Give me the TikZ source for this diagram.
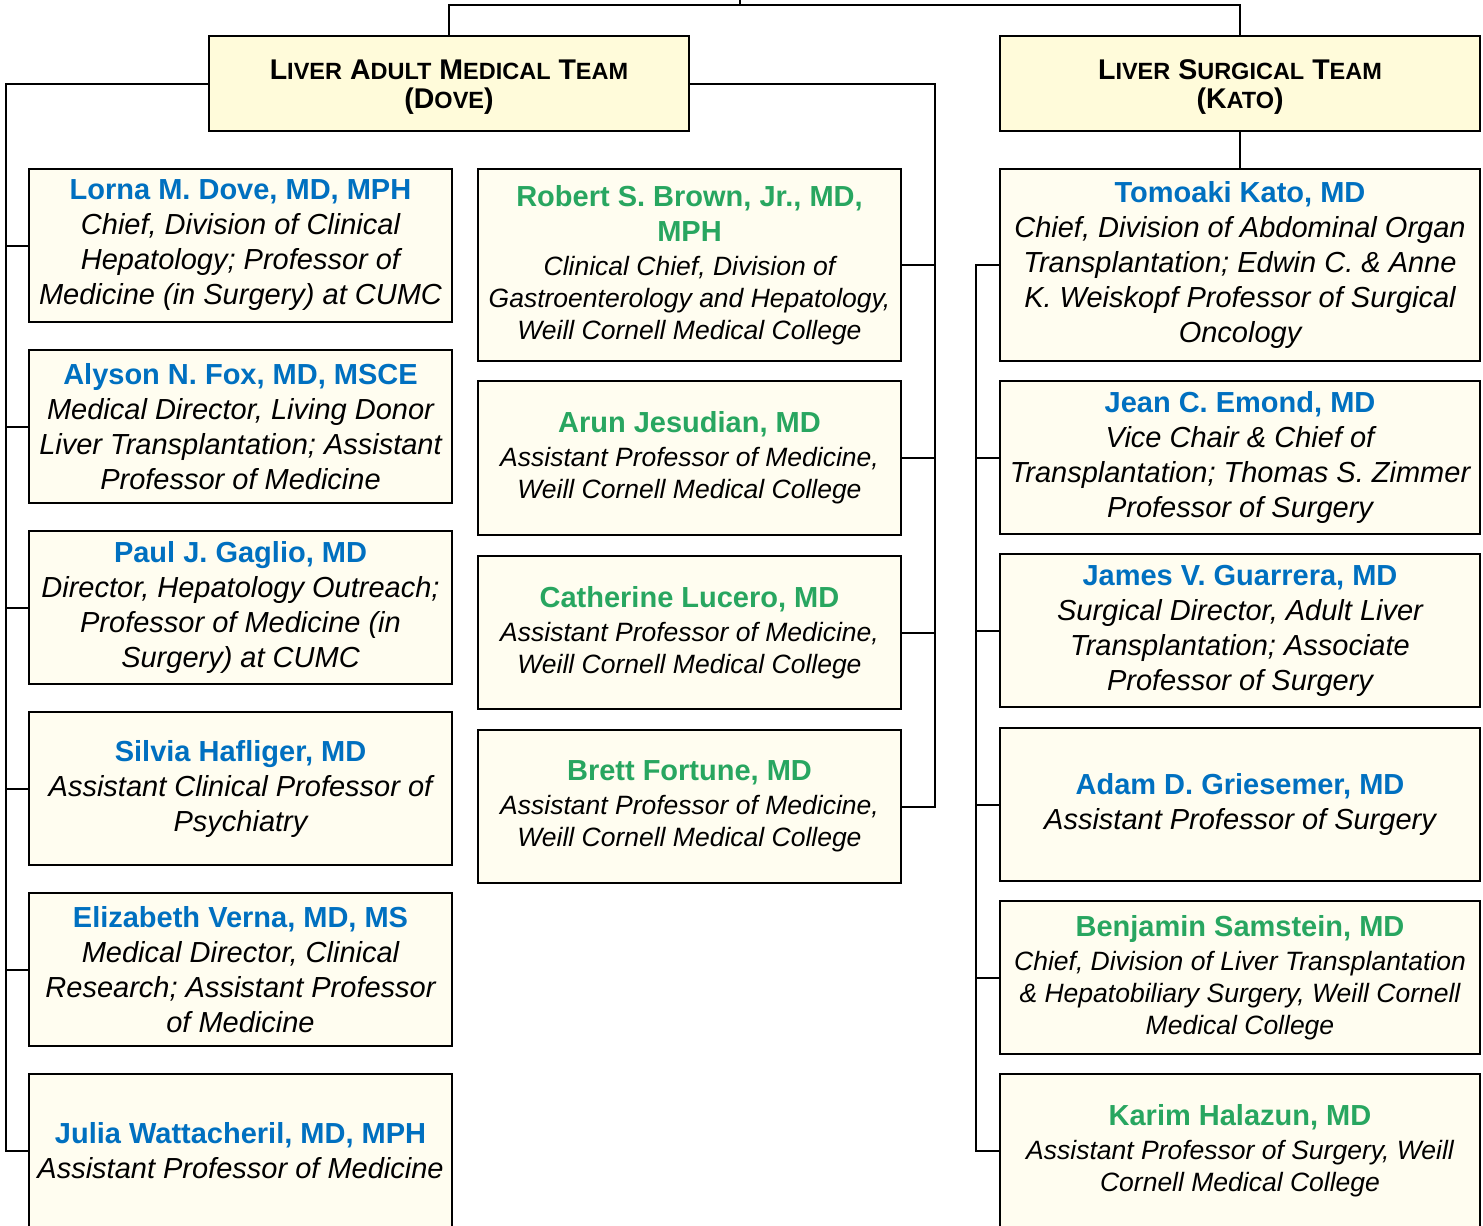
\documentclass[tikz,border=0pt]{standalone}
\usepackage{fontspec}
\setmainfont{Liberation Sans}
\definecolor{cublue}{RGB}{0,112,192}
\definecolor{wcgreen}{RGB}{40,166,96}
\definecolor{pfill}{RGB}{255,253,240}
\definecolor{tfill}{RGB}{255,251,218}
\newcommand\SC[2]{{\fontsize{28.5}{29}\selectfont #1}{\fontsize{23.5}{29}\selectfont #2}}
\newcommand\bname[1]{{\bfseries\upshape\color{cublue}\fontsize{29}{35}\selectfont #1}}
\newcommand\gname[1]{{\bfseries\upshape\color{wcgreen}\fontsize{29}{35}\selectfont #1}}
\begin{document}
\begin{tikzpicture}[x=1pt,y=-1pt,
  conn/.style={draw=black,line width=2pt},
  pbox/.style={draw=black,line width=2pt,fill=pfill,anchor=north west,inner sep=0pt,align=center},
  bluebox/.style={pbox,font=\itshape\fontsize{29}{35}\selectfont},
  greenbox/.style={pbox,font=\itshape\fontsize{26.5}{32}\selectfont},
  tbox/.style={draw=black,line width=2pt,fill=tfill,anchor=north west,inner sep=0pt,
    minimum width=480pt,minimum height=95pt},
  ttext/.style={align=center,inner sep=0pt,font=\bfseries\fontsize{28.5}{29}\selectfont}]
\useasboundingbox (0,0) rectangle (1483,1226);

% title boxes
\node[tbox] (dovet) at (208,35) {};
\node[ttext] (dovetxt) at ([yshift=-4pt]dovet.center) {\SC{L}{IVER} \SC{A}{DULT} \SC{M}{EDICAL} \SC{T}{EAM}\\(\SC{D}{OVE})};
\node[tbox] (katot) at (999,35) {};
\node[ttext] (katotxt) at ([yshift=-4pt]katot.center) {\SC{L}{IVER} \SC{S}{URGICAL} \SC{T}{EAM}\\(\SC{K}{ATO})};

% left column
\begin{scope}[every node/.append style={minimum width=423pt,minimum height=153pt}]
\node[bluebox] (dove) at (28,168) {\bname{Lorna M. Dove, MD, MPH}\\Chief, Division of Clinical\\Hepatology; Professor of\\Medicine (in Surgery) at CUMC};
\node[bluebox] (fox) at (28,349) {\bname{Alyson N. Fox, MD, MSCE}\\Medical Director, Living Donor\\Liver Transplantation; Assistant\\Professor of Medicine};
\node[bluebox] (gaglio) at (28,530) {\bname{Paul J. Gaglio, MD}\\Director, Hepatology Outreach;\\Professor of Medicine (in\\Surgery) at CUMC};
\node[bluebox] (hafliger) at (28,711) {\bname{Silvia Hafliger, MD}\\Assistant Clinical Professor of\\Psychiatry};
\node[bluebox] (verna) at (28,892) {\bname{Elizabeth Verna, MD, MS}\\Medical Director, Clinical\\Research; Assistant Professor\\of Medicine};
\node[bluebox] (watt) at (28,1073) {\bname{Julia Wattacheril, MD, MPH}\\Assistant Professor of Medicine};
\end{scope}

% middle column
\begin{scope}[every node/.append style={minimum width=423pt,minimum height=153pt}]
\node[greenbox,minimum height=192pt] (brown) at (477,168) {\gname{Robert S. Brown, Jr., MD,}\\[3pt]\gname{MPH}\\[2pt]Clinical Chief, Division of\\Gastroenterology and Hepatology,\\Weill Cornell Medical College};
\node[greenbox,minimum height=154pt] (jesudian) at (477,380) {\gname{Arun Jesudian, MD}\\[2pt]Assistant Professor of Medicine,\\Weill Cornell Medical College};
\node[greenbox] (lucero) at (477,555) {\gname{Catherine Lucero, MD}\\[2pt]Assistant Professor of Medicine,\\Weill Cornell Medical College};
\node[greenbox] (fortune) at (477,729) {\gname{Brett Fortune, MD}\\[2pt]Assistant Professor of Medicine,\\Weill Cornell Medical College};
\end{scope}

% right column
\begin{scope}[every node/.append style={minimum width=480pt,minimum height=153pt}]
\node[bluebox,minimum height=192pt] (kato) at (999,168) {\bname{Tomoaki Kato, MD}\\Chief, Division of Abdominal Organ\\Transplantation; Edwin C. \& Anne\\K. Weiskopf Professor of Surgical\\Oncology};
\node[bluebox] (emond) at (999,380) {\bname{Jean C. Emond, MD}\\Vice Chair \& Chief of\\Transplantation; Thomas S. Zimmer\\Professor of Surgery};
\node[bluebox] (guarrera) at (999,553) {\bname{James V. Guarrera, MD}\\Surgical Director, Adult Liver\\Transplantation; Associate\\Professor of Surgery};
\node[bluebox] (griesemer) at (999,727) {\bname{Adam D. Griesemer, MD}\\Assistant Professor of Surgery};
\node[greenbox] (samstein) at (999,900) {\gname{Benjamin Samstein, MD}\\[2pt]Chief, Division of Liver Transplantation\\\& Hepatobiliary Surgery, Weill Cornell\\Medical College};
\node[greenbox] (halazun) at (999,1073) {\gname{Karim Halazun, MD}\\[2pt]Assistant Professor of Surgery, Weill\\Cornell Medical College};
\end{scope}

% trunk coordinates
\coordinate (top) at (740,0);
\coordinate (topbar) at (740,5);
\coordinate (lt) at (6,0);
\coordinate (mt) at (935,0);
\coordinate (rt) at (976,0);

% top connectors
\draw[conn] (top) -- (topbar);
\draw[conn] (dovet.north) |- (topbar) -| (katot.north);

% left trunk
\draw[conn] (dovet.west) -| (lt |- watt.west) -- (watt.west);
\foreach \n in {dove,fox,gaglio,hafliger,verna}
  \draw[conn] (\n.west) -- (\n.west -| lt);

% middle trunk
\draw[conn] (dovet.east) -| (mt |- fortune.east) -- (fortune.east);
\foreach \n in {brown,jesudian,lucero}
  \draw[conn] (\n.east) -- (\n.east -| mt);

% right trunk
\draw[conn] (katot.south) -- (kato.north);
\draw[conn] (kato.west) -| (rt |- halazun.west) -- (halazun.west);
\foreach \n in {emond,guarrera,griesemer,samstein}
  \draw[conn] (\n.west) -- (\n.west -| rt);
\end{tikzpicture}
\end{document}
